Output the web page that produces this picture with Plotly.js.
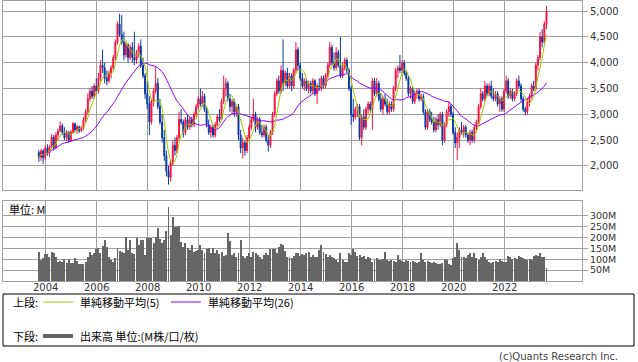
<!DOCTYPE html>
<html>
<head>
<meta charset="utf-8">
<script src="https://cdn.plot.ly/plotly-3.0.1.min.js"></script>
<style>html,body{margin:0;padding:0;background:#fff;}#chart{width:638px;height:362px;}</style>
</head>
<body>
<div id="chart"></div>
<script>
// Monthly bars, first month 2003-10, 240 months
const startYear = 2003, startMonth = 10, monthCount = 240;

const openP = [
2260,2170,2290,2160,2350,2250,2380,2560,2350,2600,
2680,2780,2650,2550,2650,2500,2660,2820,2700,2760,
2680,2740,2900,3050,3300,3450,3350,3550,3450,3700,
3950,3900,3700,3650,3800,3900,4100,4400,4750,4550,
4400,4150,4350,4100,4300,4100,4050,4200,4320,3950,
3750,3400,3200,2850,3250,3450,3600,3150,2850,2550,
2200,1900,1780,2050,2400,2300,2550,2900,2850,2650,
2900,2750,2900,2800,3000,3150,3300,3200,3350,3100,
2800,2650,2750,2600,2800,2950,2900,3250,3500,3600,
3300,3150,3250,3050,3150,2600,2350,2450,2300,2550,
2750,2900,3000,2750,2900,2650,2600,2750,2500,2400,
2650,3000,3400,3650,3450,3850,3600,3800,3550,3750,
3550,3850,4250,3950,3700,3550,3650,3500,3600,3450,
3650,3400,3550,3500,3700,3550,3750,3950,4300,4000,
3900,4200,3950,3750,3900,4050,3850,3500,3000,2950,
3100,3150,2550,2950,2750,3100,3200,3100,3650,3400,
3600,3300,3100,3300,3200,3050,3200,3100,3500,3850,
3900,3850,4000,3800,3700,3400,3500,3250,3400,3450,
3300,3350,3050,2750,3050,2900,2850,2700,2900,2800,
3000,2500,2800,3050,3150,3000,2650,2450,2550,2700,
2650,2750,2600,2500,2650,2500,2750,2850,3150,3400,
3300,3550,3400,3550,3350,3300,3400,3200,3300,3100,
3450,3650,3350,3450,3300,3400,3650,3550,3300,3100,
3050,3250,3350,3550,3500,3950,4100,4500,4400,4750];

const highP = [
2310,2330,2330,2400,2420,2400,2620,2600,2650,2720,
2860,2820,2750,2700,2680,2700,2850,2840,2800,2780,
2780,2950,3100,3400,3500,3550,3600,3700,3800,4050,
4250,4000,3850,3850,3950,4150,4450,4800,4950,4920,
4600,4400,4380,4350,4400,4600,4250,4380,4450,4100,
3800,3650,3350,3300,3500,3920,3700,3300,3000,2700,
2300,2000,2100,2500,2550,2600,3050,3100,2900,2950,
3000,2950,2950,3050,3200,3350,3500,3450,3400,3150,
2900,2800,2800,2850,3000,3100,3300,3750,3700,3650,
3400,3300,3300,3200,3200,2700,2550,2500,2600,2800,
2950,3300,3050,2950,2950,2800,2800,2800,2600,2700,
3050,3450,3700,3750,3950,4450,3850,3900,3800,3800,
3900,4400,4300,4000,3800,3700,3700,3650,3650,3700,
3680,3600,3700,3750,3750,3800,4000,4400,4350,4200,
4300,4250,4500,4000,4100,4100,3900,3550,3300,3150,
3200,3200,3000,3100,3150,3250,3250,3700,3700,3700,
3650,3400,3350,3400,3300,3250,3250,3550,3900,3950,
4150,4050,4050,3850,3750,3550,3550,3450,3500,3500,
3400,3400,3100,3100,3100,3050,2950,2950,3000,3050,
3050,2850,3100,3250,3200,3050,2750,2650,2750,2850,
2800,2800,2650,2700,2700,2800,2900,3200,3500,3450,
3650,3600,3600,3650,3500,3450,3450,3350,3350,3500,
3750,3700,3500,3500,3450,3700,3750,3600,3350,3150,
3300,3400,3600,3650,4000,4150,4600,4650,4800,5100];

const lowP = [
2080,2100,2040,2120,2200,2180,2350,2300,2330,2500,
2650,2600,2500,2480,2450,2460,2620,2650,2620,2640,
2660,2700,2850,3000,3250,3300,3300,3400,3400,3650,
3800,3600,3560,3600,3700,3850,4050,4350,4500,4350,
4050,4100,4000,4050,4000,3950,3980,4100,3900,3700,
3300,3100,2600,2800,3150,3400,3100,2800,2450,2100,
1800,1640,1700,2000,2200,2250,2500,2800,2550,2600,
2700,2700,2750,2750,2950,3100,3150,3150,3050,2750,
2600,2550,2550,2550,2750,2850,2880,3200,3350,3250,
3050,3000,2950,2950,2500,2250,2150,2200,2250,2500,
2700,2850,2650,2700,2600,2550,2550,2450,2280,2350,
2600,2950,3350,3400,3400,3450,3550,3500,3500,3450,
3500,3800,3850,3650,3500,3450,3450,3400,3400,3400,
3350,3200,3450,3450,3500,3500,3700,3900,3950,3850,
3850,3900,3700,3700,3850,3800,3450,2800,2850,2900,
2950,2500,2400,2700,2700,3000,3050,2700,3350,3350,
3250,3050,3000,3150,3000,3000,3050,3050,3450,3700,
3800,3800,3750,3650,3350,3300,3200,3200,3300,3250,
3250,3000,2700,2700,2850,2800,2650,2650,2700,2750,
2400,2450,2750,2950,2950,2600,2350,2110,2350,2600,
2550,2550,2450,2400,2450,2450,2700,2800,3100,3250,
3250,3350,3350,3300,3250,3250,3150,3050,3050,3050,
3400,3300,3300,3250,3250,3350,3500,3250,3050,2980,
2990,3150,3300,3450,3450,3850,4050,4300,4350,4650];

const closeP = [
2170,2290,2160,2350,2250,2380,2560,2350,2600,2680,
2780,2650,2550,2650,2500,2660,2820,2700,2760,2680,
2740,2900,3050,3300,3450,3350,3550,3450,3700,3950,
3900,3700,3650,3800,3900,4100,4400,4750,4550,4400,
4150,4350,4100,4300,4100,4050,4200,4320,3950,3750,
3400,3200,2850,3250,3450,3600,3150,2850,2550,2200,
1900,1780,2050,2400,2300,2550,2900,2850,2650,2900,
2750,2900,2800,3000,3150,3300,3200,3350,3100,2800,
2650,2750,2600,2800,2950,2900,3250,3500,3600,3300,
3150,3250,3050,3150,2600,2350,2450,2300,2550,2750,
2900,3000,2750,2900,2650,2600,2750,2500,2400,2650,
3000,3400,3650,3450,3850,3600,3800,3550,3750,3550,
3850,4250,3950,3700,3550,3650,3500,3600,3450,3650,
3400,3550,3500,3700,3550,3750,3950,4300,4000,3900,
4200,3950,3750,3900,4050,3850,3500,3000,2950,3100,
3150,2550,2950,2750,3100,3200,3100,3650,3400,3600,
3300,3100,3300,3200,3050,3200,3100,3500,3850,3900,
3850,4000,3800,3700,3400,3500,3250,3400,3450,3300,
3350,3050,2750,3050,2900,2850,2700,2900,2800,3000,
2500,2800,3050,3150,3000,2650,2450,2550,2700,2650,
2750,2600,2500,2650,2500,2750,2850,3150,3400,3300,
3550,3400,3550,3350,3300,3400,3200,3300,3100,3450,
3650,3350,3450,3300,3400,3650,3550,3300,3100,3050,
3250,3350,3550,3500,3950,4100,4500,4400,4750,5000];

// Volume in millions
const volumeM = [
135,96,104,124,124,112,135,130,109,89,
93,86,100,84,100,81,81,104,93,78,
78,78,89,112,135,119,127,145,150,130,
161,188,158,112,96,89,104,150,139,135,
127,201,142,188,130,124,196,165,188,188,
119,196,196,199,173,201,242,191,173,188,
231,338,211,292,246,250,253,181,158,173,
150,142,165,135,139,142,165,142,130,145,
150,127,150,127,142,124,135,115,119,219,
185,119,127,112,127,188,115,104,115,127,
109,135,130,119,112,100,119,127,119,145,
145,145,130,158,170,165,139,109,112,104,
115,130,127,115,124,119,127,135,112,119,
109,112,142,165,135,124,112,119,109,104,
96,89,127,96,89,89,127,119,145,135,
115,119,112,115,100,109,104,89,96,104,
96,96,100,135,96,93,96,93,89,119,
96,93,89,96,93,89,93,89,84,89,
130,96,89,93,89,84,89,81,78,78,
81,100,96,78,73,104,112,176,142,109,
112,104,119,127,112,127,104,96,109,130,
112,96,89,81,89,93,89,100,93,89,
89,115,109,100,104,100,115,109,104,100,
96,100,96,115,119,115,130,109,109,58];

const priceTicks = [2000,2500,3000,3500,4000,4500,5000];
const volTicks = [50,100,150,200,250,300];
const volTickText = ['50M','100M','150M','200M','250M','300M'];
const yearTicks = ['2004','2006','2008','2010','2012','2014','2016','2018','2020','2022'];

// month dates
const dates = [];
for (let k = 0; k < monthCount; k++) {
  const m0 = startMonth - 1 + k;
  const y = startYear + Math.floor(m0 / 12);
  const m = (m0 % 12) + 1;
  dates.push(y + '-' + String(m).padStart(2,'0') + '-01');
}
const yearDates = yearTicks.map(y => y + '-01-01');
function sma(arr, n) {
  return arr.map((v, i) => {
    const s = Math.max(0, i - n + 1);
    const w = arr.slice(s, i + 1);
    return w.reduce((a, b) => a + b, 0) / w.length;
  });
}
const ma5 = sma(closeP, 5);
const ma26 = sma(closeP, 26);

const W = 638, H = 362;
const px = x => x / W;
const py = y => 1 - y / H;

const RED = '#f5143f', BLUE = '#0a3aa0', GREEN = '#99cc00', PURPLE = '#9900ff', GRID = '#a0a0a0';
const tickFont = {family: 'DejaVu Sans, Verdana, sans-serif', size: 10, color: '#333'};
const cjk = 'Noto Sans CJK JP, DejaVu Sans, sans-serif';

const traces = [
  {type: 'candlestick', x: dates, open: openP, high: highP, low: lowP, close: closeP,
   xaxis: 'x', yaxis: 'y', whiskerwidth: 0,
   increasing: {line: {color: RED, width: 1}, fillcolor: RED},
   decreasing: {line: {color: BLUE, width: 1}, fillcolor: BLUE},
   hoverinfo: 'skip', showlegend: false},
  {type: 'scatter', mode: 'lines', x: dates, y: ma26, xaxis: 'x', yaxis: 'y',
   line: {color: PURPLE, width: 1}, hoverinfo: 'skip', showlegend: false},
  {type: 'scatter', mode: 'lines', x: dates, y: ma5, xaxis: 'x', yaxis: 'y',
   line: {color: GREEN, width: 1}, hoverinfo: 'skip', showlegend: false},
  {type: 'bar', x: dates, y: volumeM, xaxis: 'x2', yaxis: 'y2',
   marker: {color: '#666666', line: {width: 0}}, hoverinfo: 'skip', showlegend: false}
];

const xRange = ['2002-05-05', '2025-01-22'];
const commonX = {
  type: 'date', range: xRange, tickvals: yearDates,
  showgrid: true, gridcolor: GRID, gridwidth: 1,
  showline: true, mirror: true, linecolor: GRID, linewidth: 1,
  zeroline: false, fixedrange: true, ticks: '', showticklabels: false
};

const annotations = [
  {xref: 'paper', yref: 'paper', x: px(7), y: py(209), xanchor: 'left', yanchor: 'middle',
   text: '単位: M', showarrow: false, font: {family: cjk, size: 11, color: '#000'}},
  {xref: 'paper', yref: 'paper', x: px(11), y: py(302), xanchor: 'left', yanchor: 'middle',
   text: '上段:', showarrow: false, font: {family: cjk, size: 11, color: '#000'}},
  {xref: 'paper', yref: 'paper', x: px(78), y: py(302), xanchor: 'left', yanchor: 'middle',
   text: '単純移動平均(5)', showarrow: false, font: {family: cjk, size: 11, color: '#000'}},
  {xref: 'paper', yref: 'paper', x: px(206), y: py(302), xanchor: 'left', yanchor: 'middle',
   text: '単純移動平均(26)', showarrow: false, font: {family: cjk, size: 11, color: '#000'}},
  {xref: 'paper', yref: 'paper', x: px(11), y: py(336), xanchor: 'left', yanchor: 'middle',
   text: '下段:', showarrow: false, font: {family: cjk, size: 11, color: '#000'}},
  {xref: 'paper', yref: 'paper', x: px(78), y: py(336), xanchor: 'left', yanchor: 'middle',
   text: '出来高 単位:(M株/口/枚)', showarrow: false, font: {family: cjk, size: 11, color: '#000'}},
  {xref: 'paper', yref: 'paper', x: px(620), y: py(356), xanchor: 'right', yanchor: 'middle',
   text: '(c)Quants Research Inc.', showarrow: false, font: {family: 'DejaVu Sans, sans-serif', size: 10, color: '#444'}}
];
yearTicks.forEach((t, k) => {
  annotations.push({xref: 'x2', yref: 'paper', x: yearDates[k], y: py(287), xanchor: 'center', yanchor: 'middle',
    text: t, showarrow: false, borderpad: 0, font: tickFont});
});

const layout = {
  width: W, height: H,
  margin: {l: 0, r: 0, t: 0, b: 0},
  paper_bgcolor: '#fff', plot_bgcolor: '#fff',
  showlegend: false, bargap: 0,
  xaxis: Object.assign({}, commonX, {domain: [px(3), px(582)], anchor: 'y',
    rangeslider: {visible: false}}),
  yaxis: {domain: [py(190), py(1)], anchor: 'x', side: 'right', range: [1535, 5195],
    tickvals: priceTicks, tickformat: ',d', tickfont: tickFont,
    ticks: 'outside', ticklen: 5, tickcolor: GRID,
    showgrid: true, gridcolor: GRID, showline: true, mirror: true, linecolor: GRID,
    zeroline: false, fixedrange: true},
  xaxis2: Object.assign({}, commonX, {domain: [px(3), px(582)], anchor: 'y2', matches: 'x'}),
  yaxis2: {domain: [py(281), py(201)], anchor: 'x2', side: 'right', range: [0, 367],
    tickvals: volTicks, ticktext: volTickText, tickfont: {family: tickFont.family, size: 9.5, color: '#333'},
    ticks: 'outside', ticklen: 5, tickcolor: GRID,
    showgrid: true, gridcolor: GRID, showline: true, mirror: true, linecolor: GRID,
    zeroline: false, fixedrange: true},
  shapes: [
    {type: 'rect', xref: 'paper', yref: 'paper', x0: px(3), x1: px(634), y0: py(346), y1: py(294),
     line: {color: '#000', width: 1}, fillcolor: 'rgba(0,0,0,0)'},
    {type: 'line', xref: 'paper', yref: 'paper', x0: px(43), x1: px(73), y0: py(302), y1: py(302),
     line: {color: GREEN, width: 1}},
    {type: 'line', xref: 'paper', yref: 'paper', x0: px(171), x1: px(201), y0: py(302), y1: py(302),
     line: {color: PURPLE, width: 1}},
    {type: 'line', xref: 'paper', yref: 'paper', x0: px(43), x1: px(73), y0: py(336), y1: py(336),
     line: {color: '#666666', width: 4}}
  ],
  annotations: annotations
};

Plotly.newPlot('chart', traces, layout, {staticPlot: true, displayModeBar: false});
</script>
</body>
</html>
